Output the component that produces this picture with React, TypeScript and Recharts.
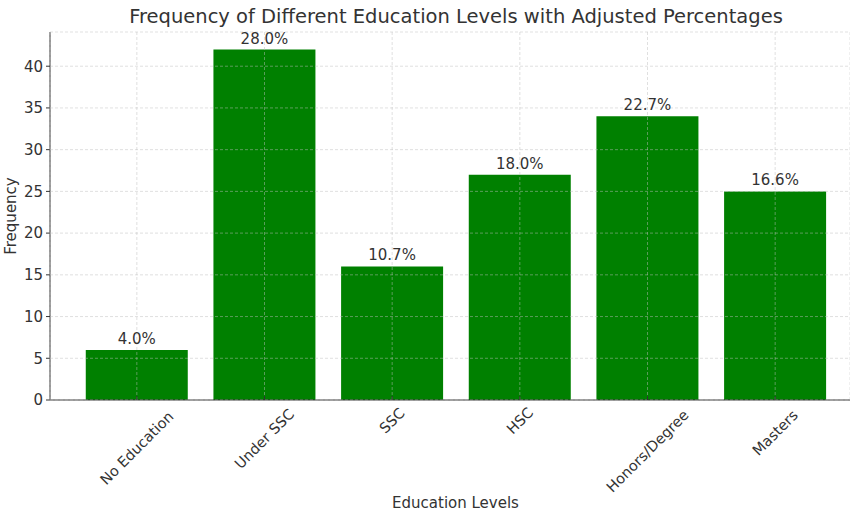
import { BarChart, Bar, XAxis, YAxis, CartesianGrid, LabelList } from 'recharts';

const categories = ['No Education', 'Under SSC', 'SSC', 'HSC', 'Honors/Degree', 'Masters'];
const frequencies = [6, 42, 16, 27, 34, 25];
const percentages = ['4.0%', '28.0%', '10.7%', '18.0%', '22.7%', '16.6%'];
const yTicks = [0, 5, 10, 15, 20, 25, 30, 35, 40];

const data = categories.map((name, i) => ({
  name,
  value: frequencies[i],
  pct: percentages[i],
}));

const FONT = '"DejaVu Sans", sans-serif';
const TEXT = '#333333';

const XTick = ({ x, y, payload }: any) => {
  const label = String(payload.value);
  // rough text length so rotated labels are centred under the tick
  const len = label.length * 8.6;
  const cy = y + 8 + (len + 10) * 0.7071 / 2;
  return (
    <g>
      <line x1={x} x2={x} y1={y} y2={y - 4} stroke={TEXT} strokeWidth={1} />
      <text
        x={x}
        y={cy}
        transform={`rotate(-45 ${x} ${cy})`}
        textAnchor="middle"
        dominantBaseline="central"
        fill={TEXT}
        fontSize={14.5}
        fontFamily={FONT}
      >
        {label}
      </text>
    </g>
  );
};

export default function App() {
  return (
    <div style={{ position: 'absolute', left: 0, top: 0, width: 850, height: 514, background: '#fff', overflow: 'hidden' }}>
      <div
        style={{
          position: 'absolute', left: 0, width: 912, top: 5, textAlign: 'center',
          fontFamily: FONT, fontSize: 19.5, color: TEXT, whiteSpace: 'nowrap',
        }}
      >
        Frequency of Different Education Levels with Adjusted Percentages
      </div>
      <div
        style={{
          position: 'absolute', left: 0, width: 911, top: 494, textAlign: 'center',
          fontFamily: FONT, fontSize: 15, color: TEXT,
        }}
      >
        Education Levels
      </div>
      <BarChart
        width={850}
        height={514}
        data={data}
        margin={{ top: 32, right: 0, bottom: 0, left: 0 }}
        barCategoryGap="10%"
      >
        <XAxis
          dataKey="name"
          height={114}
          padding={{ left: 23, right: 11 }}
          axisLine={{ stroke: TEXT, strokeWidth: 1 }}
          tickLine={false}
          tickSize={0}
          tickMargin={0}
          interval={0}
          tick={<XTick />}
        />
        <YAxis
          width={50}
          domain={[0, 44.1]}
          ticks={yTicks}
          allowDataOverflow
          axisLine={{ stroke: TEXT, strokeWidth: 1 }}
          tickLine={{ stroke: TEXT }}
          tickSize={4}
          tickMargin={3}
          tick={{ fill: TEXT, fontSize: 15, fontFamily: FONT }}
          label={{ value: 'Frequency', angle: -90, position: 'center', dx: -14, fill: TEXT, fontSize: 15, fontFamily: FONT }}
        />
        <Bar dataKey="value" fill="#008000" isAnimationActive={false}>
          <LabelList dataKey="pct" position="top" offset={6} fill={TEXT} fontSize={15} fontFamily={FONT} />
        </Bar>
        <CartesianGrid zIndex={1000} stroke="rgba(190,190,190,0.6)" strokeDasharray="3 2" strokeWidth={0.8} />
      </BarChart>
    </div>
  );
}
